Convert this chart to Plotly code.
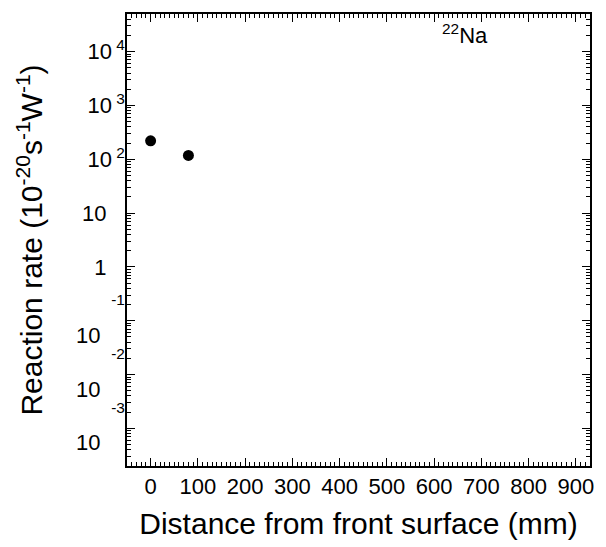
import plotly.graph_objects as go
import math

# data
distance_mm = [0, 80]
reaction_rate = [220, 118]

NB = "\u00a0"
y_tickvals = [1e-3, 1e-2, 1e-1, 1, 10, 100, 1e3, 1e4]
y_ticktext = [
    "<sup>-3</sup><br>10" + NB * 4,
    "<sup>-2</sup><br>10" + NB * 4,
    "<sup>-1</sup><br>10" + NB * 4,
    "1" + NB * 3,
    "10" + NB * 3,
    "10<sup>" + NB + "2</sup>",
    "10<sup>" + NB + "3</sup>",
    "10<sup>" + NB + "4</sup>",
]
x_tickvals = [0, 100, 200, 300, 400, 500, 600, 700, 800, 900]
x_ticktext = [str(v) for v in x_tickvals]
label_text = "<sup>22</sup>Na"

x_minor = [v for v in range(-40, 931, 10) if v % 100 != 0]
y_minor = [m * 10.0 ** e for e in range(-4, 5) for m in range(2, 10)]

x_range = [-50, 930]
y_range = [math.log10(2e-4), math.log10(5e4)]

font_family = "Liberation Sans, Arial, Helvetica, sans-serif"

fig = go.Figure()
fig.add_trace(go.Scatter(
    x=distance_mm, y=reaction_rate, mode="markers",
    marker=dict(color="black", size=11, symbol="circle"),
    showlegend=False,
))
# carrier trace for the minor-tick axes (outside the visible range)
fig.add_trace(go.Scatter(
    x=[-100], y=[1e-6], xaxis="x2", yaxis="y2", mode="markers",
    marker=dict(opacity=0), showlegend=False, hoverinfo="skip",
))

fig.update_layout(
    width=606, height=547,
    margin=dict(l=127, r=13, t=12, b=80),
    paper_bgcolor="white", plot_bgcolor="white",
    font=dict(family=font_family, color="black", size=22),
    showlegend=False,
    xaxis=dict(
        range=x_range, tickmode="array", tickvals=x_tickvals, ticktext=x_ticktext,
        ticks="inside", ticklen=8, tickwidth=1.2, tickcolor="black",
        showline=True, linecolor="black", linewidth=1.5, mirror="ticks",
        showgrid=False, zeroline=False,
        tickfont=dict(size=22),
        title=dict(text="Distance from front surface (mm)", font=dict(size=30), standoff=15),
    ),
    yaxis=dict(
        type="log", range=y_range,
        tickmode="array", tickvals=y_tickvals, ticktext=y_ticktext,
        ticks="inside", ticklen=8, tickwidth=1.2, tickcolor="black",
        showline=True, linecolor="black", linewidth=1.5, mirror="ticks",
        showgrid=False, zeroline=False,
        tickfont=dict(size=22), ticklabelstandoff=-4,
        title=dict(text="Reaction rate (10<sup>-20</sup>s<sup>-1</sup>W<sup>-1</sup>)",
                   font=dict(size=30), standoff=24),
    ),
    xaxis2=dict(
        overlaying="x", anchor="y", side="bottom", range=x_range,
        tickmode="array", tickvals=x_minor, showticklabels=False,
        ticks="inside", ticklen=4, tickwidth=1, tickcolor="black",
        showline=False, mirror="ticks", showgrid=False, zeroline=False,
    ),
    yaxis2=dict(
        overlaying="y", anchor="x", side="left", type="log", range=y_range,
        tickmode="array", tickvals=y_minor, showticklabels=False,
        ticks="inside", ticklen=4, tickwidth=1, tickcolor="black",
        showline=False, mirror="ticks", showgrid=False, zeroline=False,
    ),
)
fig.add_annotation(
    x=0.73, y=0.955, xref="paper", yref="paper",
    text=label_text, showarrow=False, font=dict(size=22),
    xanchor="center", yanchor="middle",
)
fig.write_html("out.html")
